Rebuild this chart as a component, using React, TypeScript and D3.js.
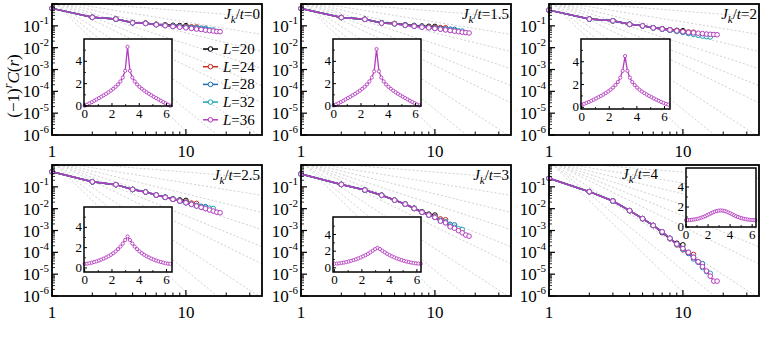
import React from 'react';
import * as d3 from 'd3';

// ---------- data ----------
const L_SIZES = [20, 24, 28, 32, 36];
const COLORS = ['#000000', '#c42a1e', '#1f6db0', '#1aa8b0', '#b43cc0'];
const J_VALUES = ['0', '1.5', '2', '2.5', '3', '4'];
const X_MAJOR = [1, 10];
const X_MINOR = [2, 3, 4, 5, 6, 7, 8, 9, 20, 30];
const Y_EXPONENTS = [-1, -2, -3, -4, -5, -6];
const INSET_X_TICKS = [0, 2, 4, 6];
const INSET_Y_TICKS = [0, 2, 4];
const GUIDE_EXPONENTS = [0.5, 1, 1.5, 2, 2.5, 3, 4, 5, 6];

// (-1)^r C(r), r = 1..L/2
const C_J0_L20 = [0.63, 0.246, 0.206, 0.141, 0.133, 0.118, 0.111, 0.106, 0.103, 0.102];
const C_J0_L24 = [0.63, 0.245, 0.205, 0.14, 0.131, 0.116, 0.108, 0.101, 0.096, 0.092, 0.09, 0.089];
const C_J0_L28 = [0.63, 0.245, 0.204, 0.139, 0.13, 0.114, 0.106, 0.098, 0.092, 0.087, 0.083, 0.08, 0.078, 0.077];
const C_J0_L32 = [0.63, 0.245, 0.204, 0.138, 0.129, 0.113, 0.104, 0.096, 0.09, 0.084, 0.079, 0.075, 0.071, 0.068, 0.066, 0.065];
const C_J0_L36 = [0.63, 0.245, 0.204, 0.138, 0.129, 0.112, 0.102, 0.093, 0.087, 0.081, 0.076, 0.071, 0.068, 0.063, 0.06, 0.058, 0.055, 0.054];

const C_J15_L20 = [0.62, 0.242, 0.201, 0.137, 0.128, 0.112, 0.104, 0.098, 0.095, 0.094];
const C_J15_L24 = [0.62, 0.241, 0.2, 0.135, 0.126, 0.11, 0.101, 0.094, 0.089, 0.085, 0.083, 0.082];
const C_J15_L28 = [0.62, 0.24, 0.199, 0.134, 0.124, 0.108, 0.099, 0.091, 0.085, 0.08, 0.076, 0.072, 0.07, 0.069];
const C_J15_L32 = [0.62, 0.24, 0.198, 0.133, 0.123, 0.107, 0.097, 0.089, 0.083, 0.077, 0.072, 0.068, 0.064, 0.061, 0.059, 0.058];
const C_J15_L36 = [0.62, 0.24, 0.198, 0.133, 0.123, 0.106, 0.096, 0.087, 0.081, 0.075, 0.07, 0.065, 0.061, 0.057, 0.054, 0.051, 0.049, 0.047];

const C_J2_L20 = [0.525, 0.204, 0.17, 0.117, 0.1, 0.082, 0.073, 0.066, 0.062, 0.06];
const C_J2_L24 = [0.525, 0.204, 0.17, 0.117, 0.1, 0.081, 0.072, 0.064, 0.058, 0.054, 0.052, 0.051];
const C_J2_L28 = [0.525, 0.204, 0.17, 0.117, 0.1, 0.081, 0.071, 0.063, 0.056, 0.05, 0.045, 0.041, 0.039, 0.038];
const C_J2_L32 = [0.525, 0.204, 0.17, 0.117, 0.1, 0.081, 0.071, 0.062, 0.055, 0.05, 0.045, 0.041, 0.037, 0.034, 0.032, 0.031];
const C_J2_L36 = [0.525, 0.204, 0.17, 0.117, 0.1, 0.081, 0.072, 0.065, 0.059, 0.054, 0.05, 0.048, 0.046, 0.044, 0.042, 0.041, 0.04, 0.039];

const C_J25_L20 = [0.49, 0.17, 0.126, 0.076, 0.058, 0.042, 0.034, 0.028, 0.025, 0.024];
const C_J25_L24 = [0.49, 0.17, 0.126, 0.076, 0.058, 0.042, 0.033, 0.027, 0.023, 0.02, 0.018, 0.0175];
const C_J25_L28 = [0.49, 0.17, 0.126, 0.076, 0.058, 0.042, 0.033, 0.027, 0.0224, 0.019, 0.016, 0.014, 0.0128, 0.0124];
const C_J25_L32 = [0.49, 0.17, 0.126, 0.076, 0.058, 0.042, 0.033, 0.027, 0.0224, 0.0186, 0.0158, 0.0135, 0.012, 0.011, 0.0105, 0.0102];
const C_J25_L36 = [0.49, 0.17, 0.126, 0.076, 0.058, 0.042, 0.033, 0.027, 0.0224, 0.0186, 0.0158, 0.0132, 0.0115, 0.01, 0.0087, 0.0078, 0.0069, 0.0065];

const C_J3_L20 = [0.39, 0.129, 0.071, 0.041, 0.0245, 0.0162, 0.0105, 0.0072, 0.0056, 0.0051];
const C_J3_L24 = [0.39, 0.129, 0.071, 0.041, 0.0245, 0.0162, 0.0102, 0.0069, 0.0053, 0.0042, 0.0034, 0.0031];
const C_J3_L28 = [0.39, 0.129, 0.071, 0.041, 0.0245, 0.0162, 0.0102, 0.0068, 0.0051, 0.004, 0.0029, 0.0025, 0.0019, 0.0018];
const C_J3_L32 = [0.39, 0.129, 0.071, 0.041, 0.0245, 0.0162, 0.0102, 0.0068, 0.0051, 0.004, 0.0027, 0.0023, 0.0016, 0.0014, 0.0012, 0.0011];
const C_J3_L36 = [0.39, 0.129, 0.071, 0.041, 0.0245, 0.0162, 0.0102, 0.0068, 0.0051, 0.004, 0.0027, 0.00224, 0.00148, 0.00126, 0.00098, 0.00079, 0.00062, 0.00055];

const C_J4_L20 = [0.245, 0.06, 0.0224, 0.0081, 0.0035, 0.0017, 0.0008, 0.00042, 0.00026, 0.00022];
const C_J4_L24 = [0.245, 0.06, 0.0224, 0.0081, 0.0035, 0.0017, 0.00085, 0.00043, 0.00022, 0.00013, 0.00009, 0.00008];
const C_J4_L28 = [0.245, 0.06, 0.0224, 0.0081, 0.0035, 0.0017, 0.00086, 0.00044, 0.00023, 0.00014, 0.00009, 0.00005, 0.000035, 0.00003];
const C_J4_L32 = [0.245, 0.06, 0.0224, 0.0081, 0.0035, 0.0017, 0.00087, 0.00044, 0.00023, 0.00014, 0.0001, 0.00006, 0.000036, 0.00002, 0.000013, 0.000011];
const C_J4_L36 = [0.245, 0.06, 0.0224, 0.0081, 0.0035, 0.0017, 0.00087, 0.00044, 0.00024, 0.00015, 0.0001, 0.000059, 0.000037, 0.000022, 0.000014, 0.0000081, 0.0000048, 0.0000048];

// structure factor S(q) for L=36, q = 2*pi*k/36, k = 0..36
const S_J0 = [0.02, 0.12, 0.24, 0.35, 0.47, 0.59, 0.71, 0.83, 0.96, 1.09, 1.23, 1.38, 1.54, 1.72, 1.93, 2.2, 2.55, 3.15, 5.3, 3.15, 2.55, 2.2, 1.93, 1.72, 1.54, 1.38, 1.23, 1.09, 0.96, 0.83, 0.71, 0.59, 0.47, 0.35, 0.24, 0.12, 0.02];
const S_J15 = [0.05, 0.14, 0.25, 0.36, 0.47, 0.59, 0.71, 0.83, 0.96, 1.09, 1.23, 1.38, 1.54, 1.72, 1.93, 2.2, 2.55, 3.1, 5.1, 3.1, 2.55, 2.2, 1.93, 1.72, 1.54, 1.38, 1.23, 1.09, 0.96, 0.83, 0.71, 0.59, 0.47, 0.36, 0.25, 0.14, 0.05];
const S_J2 = [0.24, 0.3, 0.38, 0.47, 0.57, 0.67, 0.78, 0.89, 1.0, 1.12, 1.25, 1.39, 1.55, 1.73, 1.95, 2.22, 2.6, 3.2, 4.5, 3.2, 2.6, 2.22, 1.95, 1.73, 1.55, 1.39, 1.25, 1.12, 1.0, 0.89, 0.78, 0.67, 0.57, 0.47, 0.38, 0.3, 0.24];
const S_J25 = [0.4, 0.42, 0.46, 0.52, 0.58, 0.65, 0.73, 0.82, 0.92, 1.03, 1.15, 1.29, 1.45, 1.63, 1.85, 2.1, 2.4, 2.75, 3.1, 2.75, 2.4, 2.1, 1.85, 1.63, 1.45, 1.29, 1.15, 1.03, 0.92, 0.82, 0.73, 0.65, 0.58, 0.52, 0.46, 0.42, 0.4];
const S_J3 = [0.5, 0.51, 0.54, 0.58, 0.63, 0.69, 0.76, 0.84, 0.93, 1.02, 1.13, 1.25, 1.38, 1.52, 1.68, 1.86, 2.05, 2.25, 2.4, 2.25, 2.05, 1.86, 1.68, 1.52, 1.38, 1.25, 1.13, 1.02, 0.93, 0.84, 0.76, 0.69, 0.63, 0.58, 0.54, 0.51, 0.5];
const S_J4 = [0.68, 0.69, 0.7, 0.72, 0.75, 0.78, 0.82, 0.87, 0.93, 1.0, 1.08, 1.17, 1.27, 1.37, 1.46, 1.54, 1.6, 1.64, 1.65, 1.64, 1.6, 1.54, 1.46, 1.37, 1.27, 1.17, 1.08, 1.0, 0.93, 0.87, 0.82, 0.78, 0.75, 0.72, 0.7, 0.69, 0.68];

const PANEL_SERIES = [
  [C_J0_L20, C_J0_L24, C_J0_L28, C_J0_L32, C_J0_L36],
  [C_J15_L20, C_J15_L24, C_J15_L28, C_J15_L32, C_J15_L36],
  [C_J2_L20, C_J2_L24, C_J2_L28, C_J2_L32, C_J2_L36],
  [C_J25_L20, C_J25_L24, C_J25_L28, C_J25_L32, C_J25_L36],
  [C_J3_L20, C_J3_L24, C_J3_L28, C_J3_L32, C_J3_L36],
  [C_J4_L20, C_J4_L24, C_J4_L28, C_J4_L32, C_J4_L36],
];
const PANEL_S = [S_J0, S_J15, S_J2, S_J25, S_J3, S_J4];

// ---------- layout ----------
const FONT = 'Liberation Serif';
const COL_LEFT = [52, 301, 549];
const ROW_TOP = [4, 165];
const PW = 210;
const PH = 131;
const INSETS = [
  { dx: 32, dy: 35, w: 88, h: 67, yd: [0, 6], xd: [-0.05, 6.4] },
  { dx: 32, dy: 35, w: 88, h: 67, yd: [0, 6], xd: [-0.05, 6.4] },
  { dx: 32, dy: 35, w: 89, h: 70, yd: [-0.15, 6], xd: [-0.05, 6.4] },
  { dx: 32, dy: 42, w: 88, h: 65, yd: [-0.4, 6], xd: [-0.05, 6.4] },
  { dx: 32, dy: 52, w: 88, h: 55, yd: [-0.5, 6.1], xd: [-0.1, 6.3] },
  { dx: 137, dy: 3, w: 70, h: 59, yd: [0, 5.9], xd: [0, 6.35] },
];

function Panel({ idx }: { idx: number }) {
  const col = idx % 3;
  const row = Math.floor(idx / 3);
  const left = COL_LEFT[col];
  const top = ROW_TOP[row];
  const x = d3.scaleLog().domain([1, 37]).range([left, left + PW]);
  const y = d3.scaleLog().domain([1e-6, 1]).range([top + PH, top]);
  const clipId = `clip${idx}`;
  const series = PANEL_SERIES[idx];
  const line = d3
    .line<number>()
    .x((_, i) => x(i + 1))
    .y((d) => y(d));

  const ins = INSETS[idx];
  const il = left + ins.dx;
  const it = top + ins.dy;
  const xs = d3.scaleLinear().domain(ins.xd).range([il, il + ins.w]);
  const ys = d3.scaleLinear().domain(ins.yd).range([it + ins.h, it]);
  const S = PANEL_S[idx];
  const qs = S.map((_, k) => (2 * Math.PI * k) / 36);
  const sLine = d3
    .line<number>()
    .x((_, k) => xs(qs[k]))
    .y((d) => ys(d));

  const yMinor: number[] = [];
  for (let e = -6; e < 0; e++) for (let m = 2; m <= 9; m++) yMinor.push(m * Math.pow(10, e));

  const label = (
    <>
      <tspan fontStyle="italic">J</tspan>
      <tspan fontStyle="italic" fontSize={11} dy={4}>k</tspan>
      <tspan dy={-4}>/</tspan>
      <tspan fontStyle="italic">t</tspan>
      <tspan>={J_VALUES[idx]}</tspan>
    </>
  );

  return (
    <g>
      <defs>
        <clipPath id={clipId}>
          <rect x={left} y={top} width={PW} height={PH} />
        </clipPath>
      </defs>
      <g clipPath={`url(#${clipId})`}>
        {GUIDE_EXPONENTS.map((a, i) => {
          const xsG = [1, 37];
          const pts = xsG.map((xx) => 1.5 * Math.pow(xx, -a));
          const path = d3
            .line<number>()
            .x((_, j) => x(xsG[j]))
            .y((d) => y(d))(pts);
          return (
            <path key={i} d={path || ''} fill="none" stroke="#c4c4c4" strokeWidth={0.8} strokeDasharray="2,2" />
          );
        })}
      </g>
      {/* inset */}
      <rect x={il} y={it} width={ins.w} height={ins.h} fill="#fff" stroke="none" />
      <path d={sLine(S) || ''} fill="none" stroke={COLORS[4]} strokeWidth={1.3} />
      {S.map((d, k) => (
        <circle key={k} cx={xs(qs[k])} cy={ys(d)} r={1.6} fill="#fff" stroke={COLORS[4]} strokeWidth={0.9} />
      ))}
      <rect x={il} y={it} width={ins.w} height={ins.h} fill="none" stroke="#000" strokeWidth={1.5} />
      {INSET_X_TICKS.map((t) => (
        <g key={'ix' + t}>
          <line x1={xs(t)} x2={xs(t)} y1={it + ins.h} y2={it + ins.h - 3} stroke="#000" strokeWidth={1} />
          <text x={xs(t)} y={it + ins.h + 12} fontSize={13} textAnchor="middle" fontFamily={FONT}>{t}</text>
        </g>
      ))}
      {[1, 3, 5].map((t) => (
        <line key={'ixm' + t} x1={xs(t)} x2={xs(t)} y1={it + ins.h} y2={it + ins.h - 2} stroke="#000" strokeWidth={0.8} />
      ))}
      {INSET_Y_TICKS.map((t) => (
        <g key={'iy' + t}>
          <line x1={il} x2={il + 3} y1={ys(t)} y2={ys(t)} stroke="#000" strokeWidth={1} />
          <text x={il - 2} y={ys(t) + 4} fontSize={13} textAnchor="end" fontFamily={FONT}>{t}</text>
        </g>
      ))}
      {[1, 3, 5].map((t) => (
        <line key={'iym' + t} x1={il} x2={il + 2} y1={ys(t)} y2={ys(t)} stroke="#000" strokeWidth={0.8} />
      ))}

      {/* main series */}
      {series.map((s, si) => (
        <g key={si}>
          <path d={line(s) || ''} fill="none" stroke={COLORS[si]} strokeWidth={1.5} />
          {s.map((d, i) => (
            <circle key={i} cx={x(i + 1)} cy={y(d)} r={2.3} fill="#fff" stroke={COLORS[si]} strokeWidth={1} />
          ))}
        </g>
      ))}

      {/* frame */}
      <rect x={left} y={top} width={PW} height={PH} fill="none" stroke="#000" strokeWidth={1.8} />

      {/* x ticks */}
      {X_MAJOR.map((t) => (
        <g key={'xm' + t}>
          <line x1={x(t)} x2={x(t)} y1={top + PH} y2={top + PH - 6} stroke="#000" strokeWidth={1.2} />
          <text x={x(t)} y={top + PH + 22} fontSize={17} textAnchor="middle" fontFamily={FONT}>{t}</text>
        </g>
      ))}
      {X_MINOR.map((t) => (
        <line key={'xn' + t} x1={x(t)} x2={x(t)} y1={top + PH} y2={top + PH - 3.5} stroke="#000" strokeWidth={1} />
      ))}
      {/* y ticks */}
      {[0, ...Y_EXPONENTS].map((e) => (
        <line key={'ym' + e} x1={left} x2={left + 6} y1={y(Math.pow(10, e))} y2={y(Math.pow(10, e))} stroke="#000" strokeWidth={1.2} />
      ))}
      {yMinor.map((v, i) => (
        <line key={'yn' + i} x1={left} x2={left + 3} y1={y(v)} y2={y(v)} stroke="#000" strokeWidth={0.8} />
      ))}
      {Y_EXPONENTS.map((e) => (
        <text key={'yl' + e} x={left - 3} y={y(Math.pow(10, e)) + 6} fontSize={17} textAnchor="end" fontFamily={FONT}>
          10<tspan fontSize={11} dy={-8}>{e}</tspan>
        </text>
      ))}

      {/* panel label */}
      {idx === 5 ? (
        <text x={left + 73} y={top + 14} fontSize={15} fontFamily={FONT}>{label}</text>
      ) : (
        <text x={left + PW - 2} y={top + 15} fontSize={15} textAnchor="end" fontFamily={FONT}>{label}</text>
      )}

      {/* legend */}
      {idx === 0 &&
        L_SIZES.map((Ls, i) => {
          const ly = 49 + i * 17.7;
          return (
            <g key={'lg' + Ls}>
              <line x1={203} x2={218} y1={ly} y2={ly} stroke={COLORS[i]} strokeWidth={1.5} />
              <circle cx={210.5} cy={ly} r={2.3} fill="#fff" stroke={COLORS[i]} strokeWidth={1} />
              <text x={223} y={ly + 5} fontSize={15} fontFamily={FONT}>
                <tspan fontStyle="italic">L</tspan>={Ls}
              </text>
            </g>
          );
        })}
    </g>
  );
}

export default function App() {
  return (
    <svg
      width={764}
      height={338}
      style={{ position: 'absolute', left: 0, top: 0, background: '#fff' }}
      fontFamily={FONT}
    >
      <rect x={0} y={0} width={764} height={338} fill="#fff" />
      {[0, 1, 2, 3, 4, 5].map((i) => (
        <Panel key={i} idx={i} />
      ))}
      <text transform="translate(19,86) rotate(-90)" fontSize={17} textAnchor="middle" fontFamily={FONT}>
        (−1)<tspan fontStyle="italic" fontSize={12} dy={-7}>r</tspan>
        <tspan fontStyle="italic" dy={7}>C</tspan>(<tspan fontStyle="italic">r</tspan>)
      </text>
    </svg>
  );
}
